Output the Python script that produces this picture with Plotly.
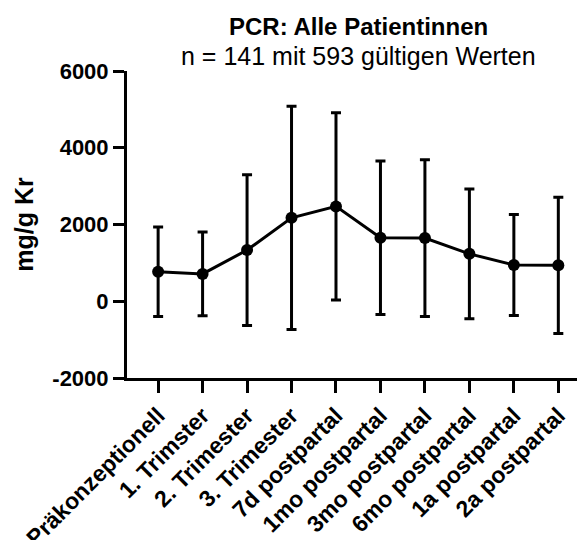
import plotly.graph_objects as go

categories = ["Präkonzeptionell", "1. Trimster", "2. Trimester", "3. Trimester",
              "7d postpartal", "1mo postpartal", "3mo postpartal", "6mo postpartal",
              "1a postpartal", "2a postpartal"]
mean_values = [768, 712, 1334, 2174, 2472, 1655, 1646, 1235, 945, 936]
sd_values = [1164, 1092, 1965, 2909, 2437, 2000, 2043, 1693, 1316, 1776]
y_tick_values = [-2000, 0, 2000, 4000, 6000]
y_tick_labels = ["-2000", "0", "2000", "4000", "6000"]

FONT = "Arial, Liberation Sans, sans-serif"
xpos = list(range(len(categories)))

fig = go.Figure()
fig.add_trace(go.Scatter(
    x=xpos, y=mean_values, mode="lines+markers",
    line=dict(color="black", width=3),
    marker=dict(color="black", size=12),
    error_y=dict(type="data", array=sd_values, visible=True,
                 color="black", thickness=3, width=5),
    showlegend=False,
))

fig.update_layout(
    width=577, height=540,
    margin=dict(l=127, r=0, t=71, b=162),
    paper_bgcolor="white", plot_bgcolor="white",
    font=dict(family=FONT, color="black"),
    xaxis=dict(
        range=[-0.7, 9.42], tickvals=xpos, ticktext=categories,
        tickangle=-45, ticks="outside", ticklen=12, tickwidth=3, tickcolor="black",
        showline=True, linewidth=3, linecolor="black",
        showgrid=False, zeroline=False, automargin=False,
        tickfont=dict(family=FONT, size=23, color="black", weight="bold"),
    ),
    yaxis=dict(
        range=[-2000, 6000], tickvals=y_tick_values, ticktext=y_tick_labels,
        ticks="outside", ticklen=11, tickwidth=3, tickcolor="black",
        showline=True, linewidth=3, linecolor="black",
        showgrid=False, zeroline=False, automargin=False,
        tickfont=dict(family=FONT, size=22, color="black", weight="bold"),
        title=dict(text="mg/g Kr", standoff=12,
                   font=dict(family=FONT, size=25, color="black", weight="bold")),
    ),
    annotations=[
        dict(text="<b>PCR: Alle Patientinnen</b>", xref="paper", yref="paper",
             x=0.515, y=1.0, yshift=29, xanchor="center", yanchor="bottom",
             showarrow=False, font=dict(family=FONT, size=24, color="black")),
        dict(text="n = 141 mit 593 gültigen Werten", xref="paper", yref="paper",
             x=0.515, y=1.0, yshift=-1, xanchor="center", yanchor="bottom",
             showarrow=False, font=dict(family=FONT, size=25, color="black")),
    ],
)

fig.write_html("out.html")
